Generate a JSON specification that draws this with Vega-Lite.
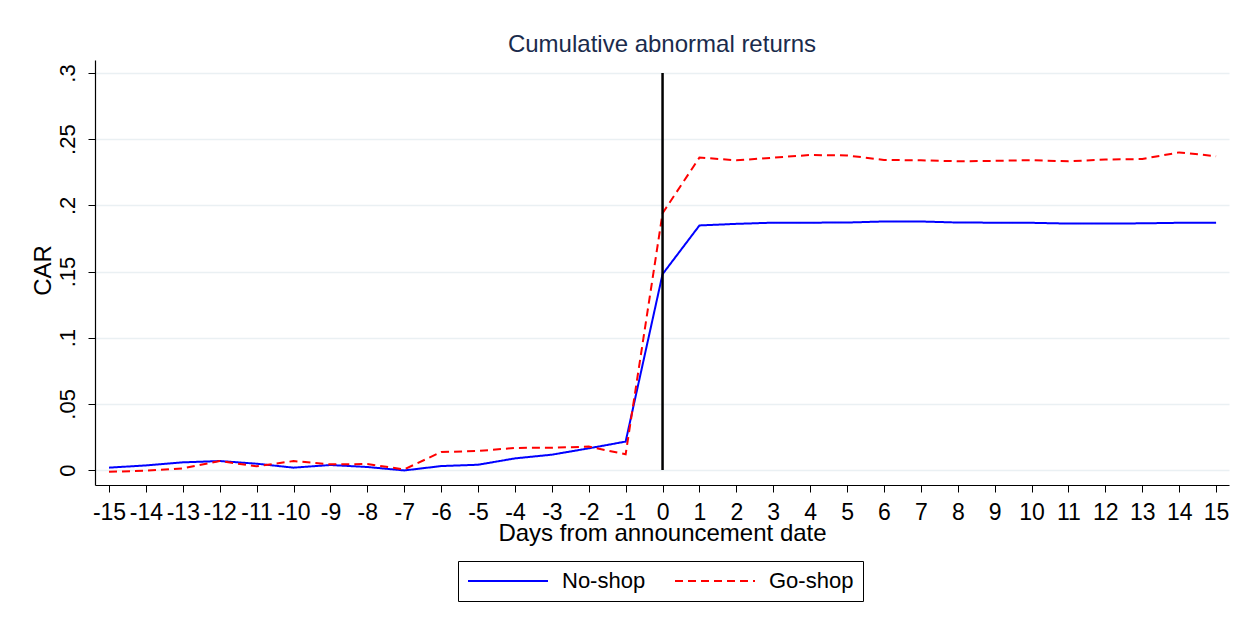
{
  "$schema": "https://vega.github.io/schema/vega-lite/v6.json",
  "width": 1134,
  "height": 425,
  "autosize": {"type": "none"},
  "padding": {"left": 95, "top": 60, "right": 20, "bottom": 141},
  "background": "white",
  "title": {
    "text": "Cumulative abnormal returns",
    "font": "Liberation Sans",
    "fontSize": 24,
    "fontWeight": "normal",
    "color": "#1a2b4c",
    "anchor": "middle",
    "offset": 3
  },
  "config": {
    "view": {"stroke": null},
    "font": "Liberation Sans",
    "axis": {"labelOverlap": false},
    "axisX": {"labelOverlap": false},
    "axisY": {"labelOverlap": false},
    "axisQuantitative": {"labelOverlap": false}
  },
  "datasets": {
    "car": [
      {"day": -15, "group": "No-shop", "car": 0.0018},
      {"day": -14, "group": "No-shop", "car": 0.0035},
      {"day": -13, "group": "No-shop", "car": 0.0058},
      {"day": -12, "group": "No-shop", "car": 0.0068},
      {"day": -11, "group": "No-shop", "car": 0.0048},
      {"day": -10, "group": "No-shop", "car": 0.0018},
      {"day": -9, "group": "No-shop", "car": 0.0038},
      {"day": -8, "group": "No-shop", "car": 0.0023},
      {"day": -7, "group": "No-shop", "car": -0.0003},
      {"day": -6, "group": "No-shop", "car": 0.003},
      {"day": -5, "group": "No-shop", "car": 0.004},
      {"day": -4, "group": "No-shop", "car": 0.0088},
      {"day": -3, "group": "No-shop", "car": 0.0116},
      {"day": -2, "group": "No-shop", "car": 0.0164},
      {"day": -1, "group": "No-shop", "car": 0.0215},
      {"day": 0, "group": "No-shop", "car": 0.148},
      {"day": 1, "group": "No-shop", "car": 0.1848},
      {"day": 2, "group": "No-shop", "car": 0.186},
      {"day": 3, "group": "No-shop", "car": 0.1869},
      {"day": 4, "group": "No-shop", "car": 0.1869},
      {"day": 5, "group": "No-shop", "car": 0.187},
      {"day": 6, "group": "No-shop", "car": 0.1878},
      {"day": 7, "group": "No-shop", "car": 0.1878},
      {"day": 8, "group": "No-shop", "car": 0.187},
      {"day": 9, "group": "No-shop", "car": 0.1869},
      {"day": 10, "group": "No-shop", "car": 0.1868},
      {"day": 11, "group": "No-shop", "car": 0.1862},
      {"day": 12, "group": "No-shop", "car": 0.1862},
      {"day": 13, "group": "No-shop", "car": 0.1864},
      {"day": 14, "group": "No-shop", "car": 0.1868},
      {"day": 15, "group": "No-shop", "car": 0.1868},
      {"day": -15, "group": "Go-shop", "car": -0.0013},
      {"day": -14, "group": "Go-shop", "car": -0.0005},
      {"day": -13, "group": "Go-shop", "car": 0.0013},
      {"day": -12, "group": "Go-shop", "car": 0.0068},
      {"day": -11, "group": "Go-shop", "car": 0.0028},
      {"day": -10, "group": "Go-shop", "car": 0.0068},
      {"day": -9, "group": "Go-shop", "car": 0.0043},
      {"day": -8, "group": "Go-shop", "car": 0.0045},
      {"day": -7, "group": "Go-shop", "car": 0.0005},
      {"day": -6, "group": "Go-shop", "car": 0.0136},
      {"day": -5, "group": "Go-shop", "car": 0.0144},
      {"day": -4, "group": "Go-shop", "car": 0.0167},
      {"day": -3, "group": "Go-shop", "car": 0.0169},
      {"day": -2, "group": "Go-shop", "car": 0.0177},
      {"day": -1, "group": "Go-shop", "car": 0.0119},
      {"day": 0, "group": "Go-shop", "car": 0.194},
      {"day": 1, "group": "Go-shop", "car": 0.2361},
      {"day": 2, "group": "Go-shop", "car": 0.234},
      {"day": 3, "group": "Go-shop", "car": 0.236},
      {"day": 4, "group": "Go-shop", "car": 0.238},
      {"day": 5, "group": "Go-shop", "car": 0.2377},
      {"day": 6, "group": "Go-shop", "car": 0.2343},
      {"day": 7, "group": "Go-shop", "car": 0.234},
      {"day": 8, "group": "Go-shop", "car": 0.2333},
      {"day": 9, "group": "Go-shop", "car": 0.2336},
      {"day": 10, "group": "Go-shop", "car": 0.2341},
      {"day": 11, "group": "Go-shop", "car": 0.2333},
      {"day": 12, "group": "Go-shop", "car": 0.2346},
      {"day": 13, "group": "Go-shop", "car": 0.235},
      {"day": 14, "group": "Go-shop", "car": 0.24},
      {"day": 15, "group": "Go-shop", "car": 0.2371}
    ],
    "event": [
      {"day": 0, "car": 0, "hi": 0.3}
    ]
  },
  "encoding": {
    "x": {
      "field": "day",
      "type": "quantitative",
      "scale": {"domain": [-15.38, 15.35], "nice": false, "zero": false},
      "axis": {
        "title": "Days from announcement date",
        "titleFont": "Liberation Sans",
        "titleFontSize": 24,
        "titleFontWeight": "normal",
        "titleColor": "black",
        "titleBaseline": "alphabetic",
        "titleY": 55,
        "values": [-15,-14,-13,-12,-11,-10,-9,-8,-7,-6,-5,-4,-3,-2,-1,0,1,2,3,4,5,6,7,8,9,10,11,12,13,14,15],
        "labelExpr": "'' + datum.value",
        "labelFont": "Liberation Sans",
        "labelFontSize": 23,
        "labelColor": "black",
        "labelOverlap": false,
        "labelFlush": false,
        "labelPadding": 9,
        "tickColor": "black",
        "tickSize": 7,
        "domainColor": "black",
        "domainWidth": 1.2,
        "grid": false
      }
    },
    "y": {
      "field": "car",
      "type": "quantitative",
      "scale": {"domain": [-0.0113, 0.3098], "nice": false, "zero": false},
      "axis": {
        "title": "CAR",
        "titleFont": "Liberation Sans",
        "titleFontSize": 24,
        "titleFontWeight": "normal",
        "titleColor": "black",
        "titleX": -45,
        "titleY": 210,
        "titleAngle": 270,
        "titleAlign": "center",
        "titleBaseline": "alphabetic",
        "values": [0, 0.05, 0.1, 0.15, 0.2, 0.25, 0.3],
        "labelExpr": "datum.value == 0 ? '0' : replace(format(datum.value, '.2~f'), '0.', '.')",
        "labelFont": "Liberation Sans",
        "labelFontSize": 22,
        "labelColor": "black",
        "labelAngle": 270,
        "labelAlign": "center",
        "labelBaseline": "alphabetic",
        "labelPadding": 14,
        "labelFlush": false,
        "labelOverlap": false,
        "tickColor": "black",
        "tickSize": 7,
        "domainColor": "black",
        "domainWidth": 1.2,
        "grid": true,
        "gridColor": "#eaf0f3",
        "gridWidth": 1.5
      }
    }
  },
  "layer": [
    {
      "data": {"name": "car"},
      "mark": {"type": "line", "strokeWidth": 2, "clip": true},
      "encoding": {
        "color": {
          "field": "group",
          "type": "nominal",
          "scale": {"domain": ["No-shop", "Go-shop"], "range": ["#0000ff", "#ff0000"]},
          "legend": {
            "title": null,
            "orient": "none",
            "legendX": 363,
            "legendY": 501,
            "direction": "horizontal",
            "symbolType": "stroke",
            "symbolSize": 6400,
            "symbolStrokeWidth": 2,
            "clipHeight": 22,
            "labelFont": "Liberation Sans",
            "labelFontSize": 22,
            "labelColor": "black",
            "labelOffset": 13,
            "columnPadding": 28,
            "padding": 9,
            "strokeColor": "black",
            "fillColor": "white"
          }
        },
        "strokeDash": {
          "field": "group",
          "type": "nominal",
          "scale": {"domain": ["No-shop", "Go-shop"], "range": [[1, 0], [8, 5]]},
          "legend": null
        }
      }
    },
    {
      "data": {"name": "event"},
      "mark": {"type": "rule", "color": "black", "strokeWidth": 2.5},
      "encoding": {
        "y2": {"field": "hi"}
      }
    }
  ]
}
